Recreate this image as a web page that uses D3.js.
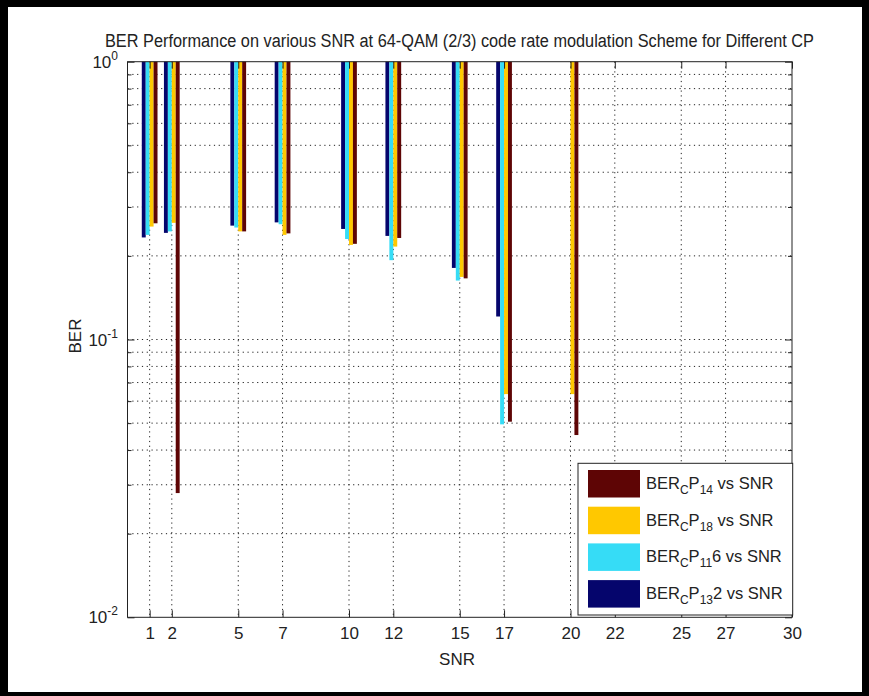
<!DOCTYPE html>
<html>
<head>
<meta charset="utf-8">
<script src="https://cdn.jsdelivr.net/npm/d3@7"></script>
<style>
  body { margin: 0; background: #fff; }
  text { font-family: "Liberation Sans", Arial, Helvetica, sans-serif; fill: #222; }
</style>
</head>
<body>
<svg id="chart" width="869" height="696"></svg>
<script>
// values (BER, log axis); null = no bar drawn
const snr = [1, 2, 5, 7, 10, 12, 15, 17, 20];
const berCP132 = [0.233, 0.242, 0.257, 0.264, 0.250, 0.236, 0.181, 0.121, null];
const berCP116 = [0.238, 0.245, 0.253, 0.260, 0.230, 0.193, 0.163, 0.0495, null];
const berCP18  = [0.255, 0.263, 0.245, 0.238, 0.219, 0.216, 0.168, 0.0636, 0.0636];
const berCP14  = [0.262, 0.028, 0.245, 0.241, 0.221, 0.232, 0.166, 0.0506, 0.0453];

const xTicks = [1, 2, 5, 7, 10, 12, 15, 17, 20, 22, 25, 27, 30];
const yTicks = [0.01, 0.1, 1];
const yTickExp = ['-2', '-1', '0'];

const titleText = 'BER Performance on various SNR at 64-QAM (2/3) code rate modulation Scheme for Different CP';

// left-to-right order inside each group
const series = [
  { sub: '13', tail: '2', color: '#05056c', values: berCP132 },
  { sub: '11', tail: '6', color: '#36dcf6', values: berCP116 },
  { sub: '18', tail: '',  color: '#ffc800', values: berCP18 },
  { sub: '14', tail: '',  color: '#5e0505', values: berCP14 }
];
const legendOrder = [3, 2, 1, 0];

const svg = d3.select('#chart');

// black picture frame
svg.append('rect').attr('width', 869).attr('height', 696).attr('fill', '#000');
svg.append('rect').attr('x', 8).attr('y', 7).attr('width', 854).attr('height', 685).attr('fill', '#fff');

const pLeft = 127.5, pRight = 792, pTop = 61.7, pBottom = 617.3;
const x = d3.scaleLinear().domain([0, 30]).range([pLeft, pRight]);
const y = d3.scaleLog().domain([0.01, 1]).range([pBottom, pTop]);

// grid
const grid = svg.append('g').attr('stroke', '#222').attr('stroke-width', 1)
  .attr('stroke-dasharray', '1.2,3.6');
grid.selectAll('line.gx').data(xTicks.filter(d => d < 30)).join('line')
  .attr('x1', d => x(d)).attr('x2', d => x(d)).attr('y1', pTop).attr('y2', pBottom);
grid.selectAll('line.gy').data(y.ticks().filter(d => d > 0.01 && d < 1)).join('line')
  .attr('x1', pLeft).attr('x2', pRight).attr('y1', d => y(d)).attr('y2', d => y(d));

// bars hang from 10^0 down to the value
const bw = (x(0.71) - x(0)) / series.length;
const bars = svg.append('g');
series.forEach((s, si) => {
  bars.selectAll(null).data(snr.map((v, i) => ({ snr: v, ber: s.values[i] })).filter(d => d.ber != null))
    .join('rect')
    .attr('x', d => x(d.snr) + (si - series.length / 2) * bw)
    .attr('width', bw)
    .attr('y', y(1))
    .attr('height', d => y(d.ber) - y(1))
    .attr('fill', s.color);
});

// axes, ticks pointing inward
const axB = svg.append('g').attr('transform', `translate(0,${pBottom})`)
  .call(d3.axisBottom(x).tickValues(xTicks).tickSizeInner(-7).tickSizeOuter(0).tickPadding(10));
const axT = svg.append('g').attr('transform', `translate(0,${pTop})`)
  .call(d3.axisTop(x).tickValues(xTicks).tickSizeInner(-7).tickSizeOuter(0).tickFormat(''));
const axL = svg.append('g').attr('transform', `translate(${pLeft},0)`)
  .call(d3.axisLeft(y).tickValues(y.ticks()).tickSizeInner(-4).tickSizeOuter(0).tickFormat(''));
const axR = svg.append('g').attr('transform', `translate(${pRight},0)`)
  .call(d3.axisRight(y).tickValues(y.ticks()).tickSizeInner(-4).tickSizeOuter(0).tickFormat(''));
[axL, axR].forEach(a => a.selectAll('.tick line')
  .filter(d => yTicks.includes(d)).attr('x2', a === axL ? 7 : -7));
[axB, axT, axL, axR].forEach(a => {
  a.select('.domain').remove();
  a.selectAll('.tick line').attr('stroke', '#222');
});
axB.selectAll('text').attr('font-size', 17).attr('fill', '#222')
  .style('font-family', '"Liberation Sans", Arial, sans-serif');

svg.append('rect').attr('x', pLeft).attr('y', pTop).attr('width', pRight - pLeft).attr('height', pBottom - pTop)
  .attr('fill', 'none').attr('stroke', '#222').attr('stroke-width', 1);

// y tick labels 10^k
const yl = svg.append('g').selectAll('text').data(yTicks).join('text')
  .attr('x', 118).attr('y', d => y(d) + 6).attr('text-anchor', 'end').attr('font-size', 17);
yl.append('tspan').text('10');
yl.append('tspan').attr('dy', -8).attr('font-size', 12).text((d, i) => yTickExp[i]);

// title and axis labels
svg.append('text').attr('x', 105).attr('y', 46.5).attr('font-size', 18)
  .attr('textLength', 709).attr('lengthAdjust', 'spacingAndGlyphs').text(titleText);
svg.append('text').attr('x', 457).attr('y', 665).attr('text-anchor', 'middle').attr('font-size', 17).text('SNR');
svg.append('text').attr('transform', 'translate(81,336) rotate(-90)').attr('text-anchor', 'middle')
  .attr('font-size', 17).text('BER');

// legend
const lg = svg.append('g');
lg.append('rect').attr('x', 578).attr('y', 463.3).attr('width', 214.7).attr('height', 151.7)
  .attr('fill', '#fff').attr('stroke', '#222').attr('stroke-width', 1);
legendOrder.forEach((si, k) => {
  const s = series[si];
  const ry = 470 + k * 36.7;
  lg.append('rect').attr('x', 588).attr('y', ry).attr('width', 52).attr('height', 27.5).attr('fill', s.color);
  const t = lg.append('text').attr('x', 646).attr('y', ry + 19).attr('font-size', 16.5);
  t.append('tspan').text('BER');
  t.append('tspan').attr('dy', 5).attr('font-size', 12).text('C');
  t.append('tspan').attr('dy', -5).text('P');
  t.append('tspan').attr('dy', 5).attr('font-size', 12).text(s.sub);
  t.append('tspan').attr('dy', -5).text(s.tail + ' vs SNR');
});
</script>
</body>
</html>
